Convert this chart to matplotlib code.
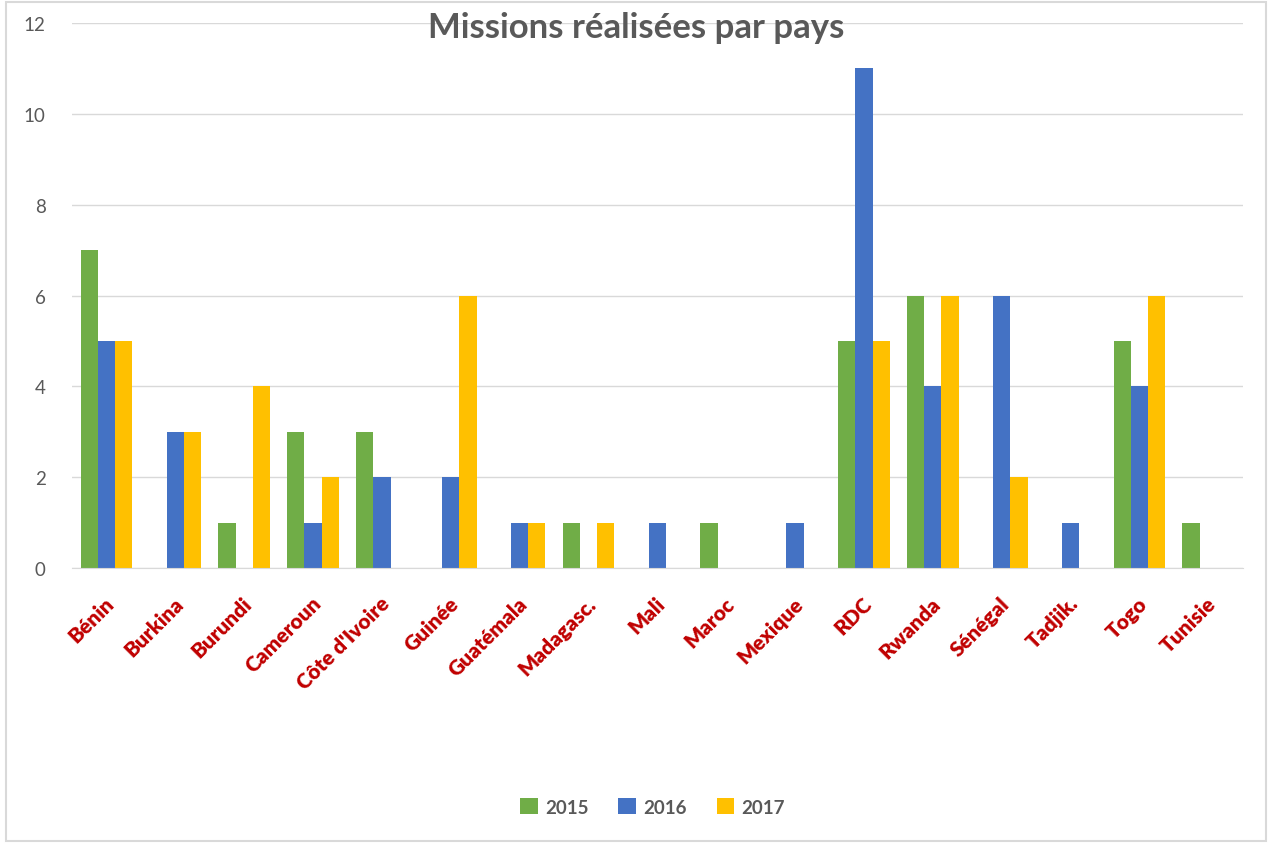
import numpy as np
import matplotlib.pyplot as plt
from matplotlib.patches import Rectangle

countries = ["Bénin", "Burkina", "Burundi", "Cameroun", "Côte d'Ivoire", "Guinée",
             "Guatémala", "Madagasc.", "Mali", "Maroc", "Mexique", "RDC", "Rwanda",
             "Sénégal", "Tadjik.", "Togo", "Tunisie"]
y2015 = [7, 0, 1, 3, 3, 0, 0, 1, 0, 1, 0, 5, 6, 0, 0, 5, 1]
y2016 = [5, 3, 0, 1, 2, 2, 1, 0, 1, 0, 1, 11, 4, 6, 1, 4, 0]
y2017 = [5, 3, 4, 2, 0, 6, 1, 1, 0, 0, 0, 5, 6, 2, 0, 6, 0]
years = ["2015", "2016", "2017"]
colors = ["#70AD47", "#4472C4", "#FFC000"]

plt.rcParams['font.family'] = ['Lato', 'DejaVu Sans']

fig = plt.figure(figsize=(12.72, 8.45), dpi=100)
ax = fig.add_axes([0.0566, 0.3266, 0.9204, 0.645])

x = np.arange(len(countries))
w = 0.25
for k, (vals, c, lab) in enumerate(zip([y2015, y2016, y2017], colors, years)):
    ax.bar(x + (k - 1) * w, vals, w, color=c, label=lab)

ax.set_xlim(-0.5, len(countries) - 0.5)
ax.set_ylim(0, 12)
ax.set_yticks(range(0, 13, 2))
ax.yaxis.grid(True, color="#D9D9D9", linewidth=1)
ax.set_axisbelow(True)
for s in ["top", "right", "left"]:
    ax.spines[s].set_visible(False)
ax.spines["bottom"].set_color("#D9D9D9")
ax.tick_params(axis="both", length=0)
ax.tick_params(axis="y", labelsize=13.5, labelcolor="#595959", pad=19)
ax.set_xticks(x - 0.03)
ax.set_xticklabels(countries, rotation=45, ha="right", rotation_mode="anchor",
                   fontsize=15, fontweight="heavy", color="#C00000")
ax.tick_params(axis="x", pad=18)

fig.text(0.5, 0.967, "Missions réalisées par pays", ha="center", va="center",
         fontsize=25, fontweight="bold", color="#595959")

leg = fig.legend(loc="center", bbox_to_anchor=(0.513, 0.044), ncol=3, frameon=False,
                 handlelength=0.95, handleheight=0.95, handletextpad=0.37,
                 columnspacing=1.6, prop={"size": 13.5, "weight": "bold"})
for t in leg.get_texts():
    t.set_color("#595959")

fig.patches.append(Rectangle((0.005, 0.003), 0.99, 0.994, transform=fig.transFigure,
                             fill=False, edgecolor="#D9D9D9", linewidth=1.5))

fig.savefig("out.png", dpi=100)
